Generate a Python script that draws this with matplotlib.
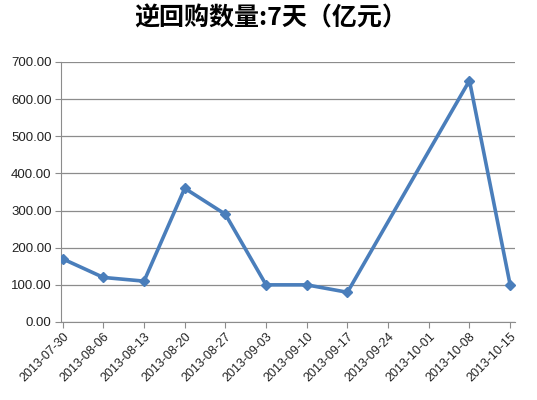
import numpy as np
import pandas as pd
import matplotlib
matplotlib.use('Agg')
import matplotlib.pyplot as plt
import matplotlib.dates as mdates

# data (09-24 and 10-01 have no operation, the line just joins across)
dates = ['2013-07-30', '2013-08-06', '2013-08-13', '2013-08-20', '2013-08-27',
         '2013-09-03', '2013-09-10', '2013-09-17', '2013-10-08', '2013-10-15']
values = [170, 120, 110, 360, 290, 100, 100, 80, 650, 100]
tick_dates = ['2013-07-30', '2013-08-06', '2013-08-13', '2013-08-20', '2013-08-27',
              '2013-09-03', '2013-09-10', '2013-09-17', '2013-09-24', '2013-10-01',
              '2013-10-08', '2013-10-15']
y_ticks = [0, 100, 200, 300, 400, 500, 600, 700]

plt.rcParams['font.family'] = ['Liberation Sans', 'DejaVu Sans']

x = pd.to_datetime(dates)
xt = pd.to_datetime(tick_dates)

fig = plt.figure(figsize=(5.37, 4.0), dpi=100)
ax = fig.add_axes([0.114, 0.195, 0.845, 0.65])

ax.plot(x, values, color='#4A7EBB', lw=2.6, marker='D', ms=5.5, zorder=3)

ax.set_ylim(0, 700)
ax.set_yticks(y_ticks)
ax.set_yticklabels([f'{v:.2f}' for v in y_ticks])
ax.set_xticks(xt)
ax.set_xticklabels(tick_dates, rotation=45, ha='right', rotation_mode='anchor')
ax.set_xlim(xt[0] - pd.Timedelta(hours=6), xt[-1] + pd.Timedelta(hours=20))

ax.grid(axis='y', color='#8c8c8c', lw=0.9)
ax.set_axisbelow(True)
for s in ['top', 'right']:
    ax.spines[s].set_visible(False)
for s in ['left', 'bottom']:
    ax.spines[s].set_color('#8c8c8c')
ax.tick_params(axis='both', colors='#8c8c8c', length=4, labelcolor='#222222')
ax.tick_params(axis='y', labelsize=9.5, pad=3)
ax.tick_params(axis='x', labelsize=9, pad=2)

fig.text(0.505, 0.953, '逆回购数量:7天（亿元）', ha='center', va='center', fontsize=18,
         fontweight='bold', family=['Noto Sans CJK SC', 'DejaVu Sans'])

fig.savefig('out.png', dpi=100)
